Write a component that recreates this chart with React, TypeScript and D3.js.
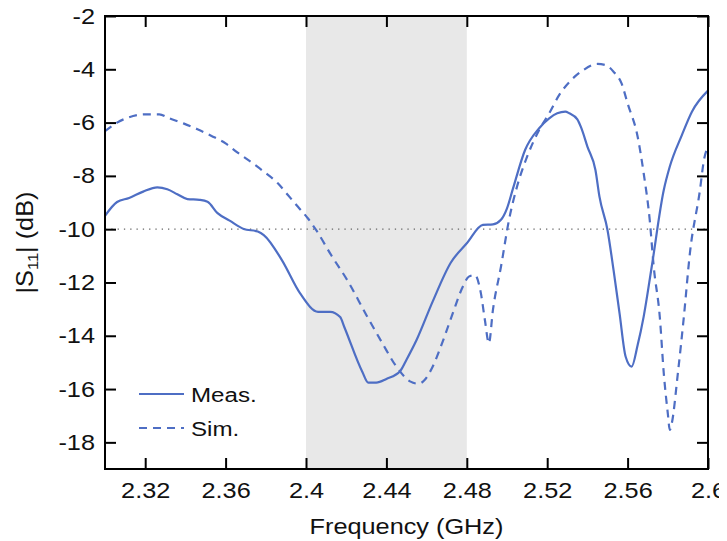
import { useEffect, useRef } from "react";
import * as d3 from "d3";

// measured |S11| (GHz, dB)
const measFreq = [2.3, 2.306, 2.312, 2.319, 2.326, 2.331, 2.336, 2.341, 2.347, 2.351, 2.356, 2.362, 2.369, 2.376, 2.379, 2.388, 2.397, 2.406, 2.412, 2.417, 2.419, 2.428, 2.431, 2.435, 2.44, 2.447, 2.45, 2.455, 2.463, 2.472, 2.48, 2.488, 2.493, 2.497, 2.5, 2.503, 2.509, 2.516, 2.521, 2.525, 2.529, 2.531, 2.535, 2.537, 2.54, 2.544, 2.546, 2.55, 2.553, 2.556, 2.559, 2.562, 2.565, 2.568, 2.572, 2.578, 2.581, 2.587, 2.592, 2.6];
const measDb = [-9.5, -8.98, -8.83, -8.59, -8.43, -8.5, -8.69, -8.87, -8.9, -8.97, -9.4, -9.68, -9.99, -10.09, -10.22, -11.16, -12.4, -13.1, -13.1, -13.3, -13.66, -15.35, -15.76, -15.76, -15.62, -15.31, -14.9, -14.16, -12.72, -11.26, -10.53, -9.84, -9.82, -9.65, -9.22, -8.47, -7.03, -6.21, -5.84, -5.65, -5.59, -5.65, -5.88, -6.21, -6.9, -7.78, -8.78, -10.03, -11.53, -13.16, -14.78, -15.16, -14.35, -13.28, -11.41, -8.53, -7.65, -6.47, -5.59, -4.8];

// simulated |S11|
const simFreq = [2.3, 2.306, 2.312, 2.32, 2.327, 2.332, 2.339, 2.346, 2.353, 2.36, 2.366, 2.373, 2.379, 2.386, 2.391, 2.396, 2.401, 2.405, 2.413, 2.421, 2.43, 2.438, 2.445, 2.452, 2.456, 2.459, 2.463, 2.468, 2.473, 2.478, 2.481, 2.484, 2.487, 2.489, 2.491, 2.493, 2.497, 2.501, 2.505, 2.51, 2.516, 2.521, 2.526, 2.532, 2.538, 2.545, 2.549, 2.553, 2.557, 2.56, 2.565, 2.568, 2.571, 2.573, 2.576, 2.578, 2.58, 2.581, 2.582, 2.585, 2.588, 2.591, 2.596, 2.598, 2.6];
const simDb = [-6.32, -6.0, -5.8, -5.69, -5.69, -5.84, -6.03, -6.25, -6.5, -6.78, -7.13, -7.5, -7.84, -8.28, -8.72, -9.16, -9.6, -10.03, -11.03, -11.97, -13.22, -14.28, -15.16, -15.72, -15.8, -15.66, -15.16, -14.22, -13.16, -12.16, -11.78, -11.72, -12.4, -13.41, -14.28, -13.03, -11.41, -9.65, -8.4, -7.28, -6.28, -5.65, -4.96, -4.4, -4.03, -3.8, -3.84, -4.09, -4.53, -5.28, -6.53, -7.9, -9.65, -11.41, -13.28, -15.41, -16.91, -17.53, -17.28, -15.41, -13.28, -10.9, -8.53, -7.4, -6.9];

const xTicks = [2.32, 2.36, 2.4, 2.44, 2.48, 2.52, 2.56, 2.6];
const yTicks = [-18, -16, -14, -12, -10, -8, -6, -4, -2];
const band = [2.4, 2.48];
const refLevel = -10;

export default function App() {
  const svgRef = useRef<SVGSVGElement>(null);

  useEffect(() => {
    const root = d3.select(svgRef.current);
    root.selectAll("*").remove();

    const left = 105, right = 708, top = 16, bottom = 469;
    const color = "#4e6ec4";
    const font = "'Liberation Sans', Arial, Helvetica, sans-serif";
    const stretch = "scale(1.15,1)"; // the original lettering is a little wider than Arial

    const x = d3.scaleLinear().domain([2.3, 2.6]).range([left, right]);
    const y = d3.scaleLinear().domain([-19, -2]).range([bottom, top]);

    const svg = root.append("g");

    // shaded band
    svg.append("rect")
      .attr("x", x(band[0]))
      .attr("y", top)
      .attr("width", x(band[1]) - x(band[0]))
      .attr("height", bottom - top)
      .attr("fill", "#e8e8e8");

    // -10 dB reference
    svg.append("line")
      .attr("x1", left).attr("x2", right)
      .attr("y1", y(refLevel)).attr("y2", y(refLevel))
      .attr("stroke", "#666")
      .attr("stroke-width", 1.3)
      .attr("stroke-dasharray", "1.3,5");

    const line = d3.line<[number, number]>()
      .x(d => x(d[0]))
      .y(d => y(d[1]))
      .curve(d3.curveMonotoneX);

    const meas = measFreq.map((f, i) => [f, measDb[i]] as [number, number]);
    const sim = simFreq.map((f, i) => [f, simDb[i]] as [number, number]);

    svg.append("path")
      .attr("d", line(sim))
      .attr("fill", "none")
      .attr("stroke", color)
      .attr("stroke-width", 2.2)
      .attr("stroke-dasharray", "8,6");

    svg.append("path")
      .attr("d", line(meas))
      .attr("fill", "none")
      .attr("stroke", color)
      .attr("stroke-width", 2.2);

    // axes (ticks inward, box frame)
    const tickLen = 11;
    const axisBottom = svg.append("g")
      .attr("transform", `translate(0,${bottom})`)
      .call(d3.axisBottom(x).tickValues(xTicks).tickSize(-tickLen).tickPadding(13).tickFormat(d => String(d)));
    const axisTop = svg.append("g")
      .attr("transform", `translate(0,${top})`)
      .call(d3.axisTop(x).tickValues(xTicks).tickSize(-tickLen).tickFormat(() => ""));
    const axisLeft = svg.append("g")
      .attr("transform", `translate(${left},0)`)
      .call(d3.axisLeft(y).tickValues(yTicks).tickSize(-tickLen).tickPadding(8.7).tickFormat(d => String(d)));
    const axisRight = svg.append("g")
      .attr("transform", `translate(${right},0)`)
      .call(d3.axisRight(y).tickValues(yTicks).tickSize(-tickLen).tickFormat(() => ""));

    [axisBottom, axisTop, axisLeft, axisRight].forEach(a => {
      a.select(".domain").remove();
      a.selectAll(".tick line").attr("stroke", "#000").attr("stroke-width", 2);
      a.selectAll(".tick text")
        .attr("fill", "#111")
        .attr("transform", stretch)
        .style("font-family", font)
        .style("font-size", "22px");
    });

    svg.append("rect")
      .attr("x", left).attr("y", top)
      .attr("width", right - left).attr("height", bottom - top)
      .attr("fill", "none")
      .attr("stroke", "#000")
      .attr("stroke-width", 2);

    // axis titles
    svg.append("text")
      .attr("transform", `translate(${(left + right) / 2},534) ${stretch}`)
      .attr("text-anchor", "middle")
      .style("font-family", font)
      .style("font-size", "22px")
      .attr("fill", "#111")
      .text("Frequency (GHz)");

    const yl = svg.append("text")
      .attr("transform", `translate(33,${(top + bottom) / 2}) rotate(-90) scale(1.1,1)`)
      .attr("text-anchor", "middle")
      .style("font-family", font)
      .style("font-size", "23px")
      .attr("fill", "#111");
    yl.append("tspan").text("|S");
    yl.append("tspan").attr("dy", 5).style("font-size", "15px").text("11");
    yl.append("tspan").attr("dy", -5).text("| (dB)");

    // legend
    const legend = svg.append("g").attr("transform", "translate(139,394)");
    [{ name: "Meas.", dash: null }, { name: "Sim.", dash: "8,6" }].forEach((d, i) => {
      const g = legend.append("g").attr("transform", `translate(0,${i * 34})`);
      g.append("line")
        .attr("x1", 0).attr("x2", 45)
        .attr("stroke", color)
        .attr("stroke-width", 2.2)
        .attr("stroke-dasharray", d.dash);
      g.append("text")
        .attr("transform", `translate(52,7.7) ${stretch}`)
        .style("font-family", font)
        .style("font-size", "21px")
        .attr("fill", "#111")
        .text(d.name);
    });
  }, []);

  return <svg ref={svgRef} width={727} height={541} style={{ display: "block", margin: "-8px 0 0 -8px" }}></svg>;
}
